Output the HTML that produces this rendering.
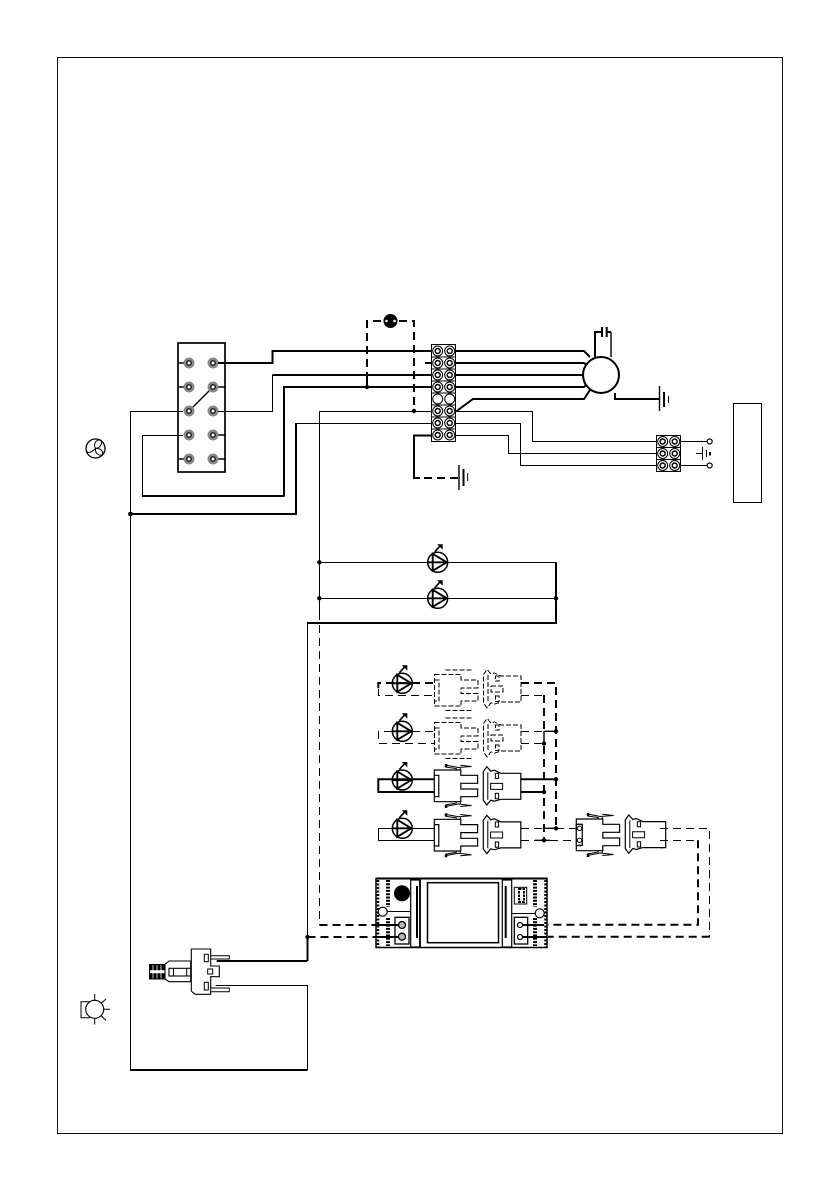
<!DOCTYPE html>
<html><head><meta charset="utf-8"><style>
html,body{margin:0;padding:0;background:#fff}
svg{display:block}
.t{fill:none;stroke:#000;stroke-width:1}
.m{fill:none;stroke:#000;stroke-width:1.4}
.k{fill:none;stroke:#000;stroke-width:2}
.dk{fill:none;stroke:#000;stroke-width:2;stroke-dasharray:8 5}
.dt{fill:none;stroke:#000;stroke-width:1;stroke-dasharray:8 5}
</style></head><body>
<svg xmlns="http://www.w3.org/2000/svg" width="839" height="1191" viewBox="0 0 839 1191">
<defs>
<g id="sw"><circle r="5.500" fill="#8a8a8a"/><circle r="3" fill="#222"/><circle r="1.500" fill="#fff"/></g>
<g id="tb"><circle r="5" fill="#fff" stroke="#000" stroke-width="1"/><circle r="2.500" fill="#fff" stroke="#000" stroke-width="1.400"/></g>
<g id="led"><circle r="10" fill="#fff" stroke="#000" stroke-width="1.500"/>
<path d="M-10 0H10M-5-9.500V9.500M-5-8.500L9 0L-5 8.500Z" fill="none" stroke="#000" stroke-width="1.900"/>
<path d="M-3-10.500L2-16" fill="none" stroke="#000" stroke-width="1.600"/><path d="M-0.500-18H5V-12.500Z"/></g>
<g id="conLf">
<path d="M0 0H26.500V5.300H43.300V13.300H26.500V19H43.300V26.700H26.500V31.700H0Z" fill="#fff" stroke="#000" stroke-width="1.200"/>
<path d="M0 5.300H4.500V26.700H0" fill="none" stroke="#000" stroke-width="1.200"/>
<path d="M11-5L24-2.500L37.300-3.500L26-4.800M11-3L22-1.500V0M26-2.500V0" fill="none" stroke="#000" stroke-width="1"/>
<rect x="10.500" y="-6" width="2.500" height="3"/>
<path d="M11 36.500L24 34L37.300 35.500L26 36.500M11 35L22 33V31.700M26 34V31.700" fill="none" stroke="#000" stroke-width="1"/>
<rect x="10.500" y="35" width="2.500" height="3"/>
</g>
<g id="conR">
<path d="M0 5L3.500 0L7.500 4.500L11 3.500L17.500 6.600H37.500V32.600H17.500L11 34.500L7.500 33.500L3.500 38.300L0 33.500Z" fill="#fff" stroke="#000" stroke-width="1.200"/>
<path d="M4.500 5.500V33M7.300 16.700H19.300V22.700H7.300ZM12 6.700H15.300V11.700H12ZM12 26.700H15.300V32H12Z" fill="none" stroke="#000"/>
</g>
<g id="conLd" fill="none" stroke="#000" stroke-dasharray="5 2" shape-rendering="crispEdges">
<path d="M0 0H26.500V5.300H43.300V13.300H26.500V19H43.300V26.700H26.500V31.700H0Z"/>
<path d="M0 5.300H4.500V26.700H0"/>
<path d="M11-4.500H37.300M11 36H37.300"/>
</g>
<g id="conRd" fill="none" stroke="#000" stroke-dasharray="5 2" shape-rendering="crispEdges">
<path d="M0 5L3.500 0L7.500 4.500L11 3.500L17.500 6.600H37.500V32.600H17.500L11 34.500L7.500 33.500L3.500 38.300L0 33.500Z"/>
<path d="M4.500 5.500V33M7.300 16.700H19.300V22.700H7.300ZM12 6.700H15.300V11.700H12ZM12 26.700H15.300V32H12Z"/>
</g>
</defs>
<rect x="57.500" y="57.500" width="725" height="1076" fill="none" stroke="#111" stroke-width="1"/>

<!-- switch -->
<rect x="178" y="343" width="47" height="129" fill="#fff" stroke="#000" stroke-width="1.700"/>
<path class="m" d="M178 363H189M178 387H189M213 387H225M213 435H225M178 459H189M213 459H225"/>
<path class="m" d="M189 411L213 387"/>
<use href="#sw" x="189" y="363"/><use href="#sw" x="213" y="363"/>
<use href="#sw" x="189" y="387"/><use href="#sw" x="213" y="387"/>
<use href="#sw" x="189" y="411"/><use href="#sw" x="213" y="411"/>
<use href="#sw" x="189" y="435"/><use href="#sw" x="213" y="435"/>
<use href="#sw" x="189" y="459"/><use href="#sw" x="213" y="459"/>

<!-- wires from switch -->
<path class="k" d="M218 363H272.500V351H584L590 357"/>
<path class="t" d="M218 411.500H272.500V375"/>
<path class="k" d="M272.500 375H583M425 363H584L589 367"/>
<path class="k" d="M284 496V387H584L589 381M142 496H284.500"/>
<path class="t" d="M142.500 496V435.500H183"/>
<path class="t" d="M183 411.500H130.500V1070"/>
<path class="k" d="M130.500 514H296V423"/>
<path class="t" d="M296 423.500H431M319.500 411.500H431M319.500 411V612"/>
<path class="dt" d="M319.500 612V925"/>
<path class="k" d="M130 1070H307.500"/>
<path class="t" d="M307.500 985V1070"/>

<!-- lamp dashed -->
<path class="dk" d="M381 321H367V375"/>
<path class="dk" d="M399 321H414V411"/>
<path class="k" d="M367 375V387"/>
<circle cx="390.500" cy="321" r="7" fill="#000"/>
<circle cx="386.500" cy="321" r="1.300" fill="#fff"/><circle cx="394.500" cy="321" r="1.300" fill="#fff"/>

<!-- terminal block -->
<rect x="431.500" y="344.500" width="24" height="97" fill="#fff" stroke="#000" stroke-width="1"/>
<path class="t" d="M431.500 357H455.500M431.500 369H455.500M431.500 381H455.500M431.500 393H455.500M431.500 405H455.500M431.500 417H455.500M431.500 429H455.500"/>
<use href="#tb" x="437.700" y="351"/><use href="#tb" x="449.700" y="351"/>
<use href="#tb" x="437.700" y="363"/><use href="#tb" x="449.700" y="363"/>
<use href="#tb" x="437.700" y="375"/><use href="#tb" x="449.700" y="375"/>
<use href="#tb" x="437.700" y="387"/><use href="#tb" x="449.700" y="387"/>
<circle cx="437.700" cy="399" r="5" fill="#fff" stroke="#000"/><circle cx="449.700" cy="399" r="5" fill="#fff" stroke="#000"/>
<use href="#tb" x="437.700" y="411"/><use href="#tb" x="449.700" y="411"/>
<use href="#tb" x="437.700" y="423"/><use href="#tb" x="449.700" y="423"/>
<use href="#tb" x="437.700" y="435"/><use href="#tb" x="449.700" y="435"/>

<!-- motor -->
<path class="k" d="M456.700 411L473 399H584L590 390"/>
<circle cx="601" cy="375" r="18" fill="#fff" stroke="#000" stroke-width="2"/>
<path class="k" d="M595 357V332H602M611 332H606.700"/>
<path class="k" d="M602 327V337M606.700 327V337"/>
<path class="m" d="M611 332V357"/>
<path class="k" d="M615 393V399H659"/>
<path class="m" d="M659.500 386V411"/><path class="k" d="M664 392V407"/><path class="t" d="M668.500 396V403"/>

<!-- thin to small block -->
<path class="t" d="M456 411.500H532.500V441.500H656M456 423.500H520.500V465.500H656M456 435.500H508.500V453.500H656"/>
<rect x="656.500" y="435.500" width="24" height="36" fill="#fff" stroke="#000"/>
<path class="t" d="M656.500 447.500H680.500M656.500 459.500H680.500"/>
<use href="#tb" x="662.700" y="441.500"/><use href="#tb" x="674.700" y="441.500"/>
<use href="#tb" x="662.700" y="453.500"/><use href="#tb" x="674.700" y="453.500"/>
<use href="#tb" x="662.700" y="465.500"/><use href="#tb" x="674.700" y="465.500"/>
<path class="t" d="M680 441.500H707M680 465.500H707M696 453.500H702"/>
<circle cx="709.700" cy="441.500" r="2.500" fill="#fff" stroke="#000" stroke-width="1.200"/>
<circle cx="709.700" cy="465.500" r="2.500" fill="#fff" stroke="#000" stroke-width="1.200"/>
<path class="t" d="M702.500 447V460M706.500 450V457"/><path class="k" d="M710 452V455.500"/>
<rect x="733.500" y="403.500" width="28" height="99" fill="#fff" stroke="#000"/>

<!-- earth left -->
<path class="k" d="M431 435.500H414V478H420"/>
<path class="dk" d="M424 478H458" stroke-dasharray="7 4"/>
<path class="m" d="M459 465V490"/><path class="k" d="M463.500 469V486"/><path class="t" d="M467.700 473V481"/>

<!-- LEDs upper -->
<path class="t" d="M319.500 562.500H556M319.500 598.500H556"/>
<path class="k" d="M556 562V623H307.500"/>
<path class="t" d="M307.500 622V961"/>
<use href="#led" x="437.700" y="562.300"/><use href="#led" x="437.700" y="598.300"/>
<circle cx="319.300" cy="562.300" r="2.200"/><circle cx="319.300" cy="598.300" r="2.200"/><circle cx="556" cy="598.300" r="2.200"/>
<circle cx="414" cy="411" r="2.200"/><circle cx="367" cy="387" r="2.200"/><circle cx="130.500" cy="514" r="2.400"/>

<!-- LED stack: row 1 -->
<use href="#led" x="402.300" y="683.300"/>
<path class="dk" d="M433 683H378.300V689"/><path class="dt" d="M378.500 689V695.500H434"/>
<use href="#conLd" x="434.500" y="674.500"/><use href="#conRd" x="483.500" y="669.500"/>
<path class="dk" d="M521 683H556V828"/>
<path class="dt" d="M521 695.500H544"/><path class="dk" d="M544 695V731"/>
<!-- row 2 -->
<use href="#led" x="402.300" y="731.300"/>
<path class="dt" d="M392 731.500H378.500V743.500H434M412 731.500H434"/>
<use href="#conLd" x="434.500" y="722.500"/><use href="#conRd" x="483.500" y="718.500"/>
<path class="dt" d="M521 731.500H544M521 743.500H544"/>
<path class="m" d="M544 731.300H556M544 731V743"/>
<path class="dk" d="M544 746V838"/>
<circle cx="556" cy="731.300" r="2.200"/><circle cx="544" cy="743.500" r="2.200"/>
<!-- row 3 -->
<path class="k" d="M434 792H378.300V779.300H392"/>
<use href="#led" x="402.300" y="780"/>
<path class="k" d="M392 779.300H434"/>
<use href="#conLf" x="434.300" y="770"/><use href="#conR" x="483.300" y="766.700"/>
<path class="k" d="M520.700 779.300H556M520.700 792H544"/>
<circle cx="556" cy="779.300" r="2.200"/><circle cx="544" cy="792" r="2.200"/>
<!-- row 4 -->
<path class="t" d="M434 840.500H378.500V828.500H392M412 828.500H434"/>
<use href="#led" x="402.300" y="828.300"/>
<use href="#conLf" x="434.300" y="819.300"/><use href="#conR" x="483.300" y="815.300"/>
<path class="dt" d="M521 828.500H544M521 840.500H535"/>
<path class="m" d="M544 828.300H556M535 840.300H550"/>
<path class="dt" d="M556 828.500H576M550 840.500H576"/>
<circle cx="556" cy="828.300" r="2.200"/><circle cx="544" cy="840.300" r="2.200"/>
<!-- right connector pair -->
<use href="#conLf" x="576.300" y="819"/>
<rect x="576.300" y="824.300" width="6" height="21" fill="#fff" stroke="#000" stroke-width="1.200"/>
<circle cx="579.500" cy="828.300" r="2.200" fill="#fff" stroke="#000"/><circle cx="579.500" cy="840.300" r="2.200" fill="#fff" stroke="#000"/>
<use href="#conR" x="625.300" y="815"/>
<path d="M660 821.600H665.700V847.600H660" fill="#fff" stroke="#000" stroke-width="1.200"/>
<path d="M662 822.500V847" stroke="#fff" stroke-width="2"/>
<path class="dt" d="M660 828.500H709.500V936.700"/>
<path class="dt" d="M660 840.500H698"/>
<path class="dk" d="M698 840.300V924.700H548"/>
<path class="dk" d="M709.700 936.700H548"/>

<!-- controller wires -->
<path class="dk" d="M319.500 925H376"/>
<path class="dk" d="M307.500 937H376"/>
<circle cx="307.500" cy="937" r="2.200"/>

<!-- controller -->
<rect x="376" y="878.500" width="171" height="69" fill="#fff" stroke="#000" stroke-width="1.500"/>
<path d="M376 878.500H547" stroke="#000" stroke-width="2"/>
<path d="M378 880V947M545.500 880V947" stroke="#000" stroke-width="2.500" stroke-dasharray="2 1.500" fill="none"/>
<path d="M388 880V907M388 918V946M535 880V907M535 918V946" stroke="#000" stroke-width="4" stroke-dasharray="2 1.300" fill="none"/>
<circle cx="402" cy="893.300" r="8" fill="#000"/>
<path class="t" d="M382 911.500H410.700M511.700 913.500H535"/>
<circle cx="382.700" cy="911.700" r="4.500" fill="#fff" stroke="#000" stroke-width="1.200"/>
<circle cx="539.700" cy="913.300" r="4.500" fill="#fff" stroke="#000" stroke-width="1.200"/>
<rect x="410.700" y="880" width="9.300" height="67" fill="#fff" stroke="#000" stroke-width="1.200"/>
<rect x="502.300" y="880" width="9.400" height="67" fill="#fff" stroke="#000" stroke-width="1.200"/>
<path d="M420 878V948" stroke="#000" stroke-width="1.800"/>
<path d="M417 886V938M505.700 886V938" stroke="#000" stroke-width="2"/>
<rect x="427.500" y="882.700" width="71" height="60" fill="#fff" stroke="#000" stroke-width="1.500"/>
<rect x="514.300" y="887.300" width="12.400" height="16.700" fill="#fff" stroke="#000"/>
<rect x="519" y="889" width="5" height="13" fill="none" stroke="#000" stroke-width="2" stroke-dasharray="2.500 1"/>
<rect x="395" y="917.300" width="14" height="26.700" fill="#fff" stroke="#000" stroke-width="1.300"/>
<rect x="514.300" y="917.300" width="13.400" height="26.700" fill="#fff" stroke="#000" stroke-width="1.300"/>
<path class="k" d="M376 925H402M376 937H402M520 925H536M520 937H547"/>
<path class="dk" d="M536 925H548" stroke-dasharray="5 4"/>
<circle cx="402" cy="925" r="3.500" fill="#bbb" stroke="#000" stroke-width="1.300"/><circle cx="402" cy="936.700" r="3.500" fill="#bbb" stroke="#000" stroke-width="1.300"/>
<circle cx="520" cy="925" r="2.500" fill="#fff" stroke="#000" stroke-width="1.200"/><circle cx="520" cy="937" r="2.500" fill="#fff" stroke="#000" stroke-width="1.200"/>

<!-- fan symbol -->
<circle cx="95.500" cy="448.500" r="9.500" fill="#fff" stroke="#000" stroke-width="1.300"/>
<path class="t" d="M95.500 448.500C93 444 96 439 101 440M95.500 448.500C100 448 104 451 102.500 455M95.500 448.500C92 452 88 454 86.500 451M101 440C103 444 100 448 95.500 448.500M102.500 455C98 456 95 453 95.500 448.500" stroke-width="1.100"/>

<!-- bulb symbol -->
<path class="t" d="M90 1001.700H81V1017.700H90"/>
<circle cx="94.700" cy="1009.300" r="9" fill="#fff" stroke="#000" stroke-width="1.100"/>
<path class="t" d="M94.700 994V1000M94.700 1018.500V1024.500M104 1009.300H110M101.500 1003L106 999M101 1015.500L106 1020.500"/>

<!-- socket -->
<rect x="149.300" y="964.300" width="15.700" height="14.700" fill="#000"/>
<rect x="149.300" y="970.200" width="15.700" height="3" fill="#fff"/>
<path d="M153 964V979M157 964V979M161 964V979" stroke="#fff" stroke-width=".8"/>
<rect x="149.500" y="964.500" width="15.500" height="14.500" fill="none" stroke="#000"/>
<path d="M165 964.300L169 961H190.700V981.700H169L165 979Z" fill="#fff" stroke="#000" stroke-width="1.100"/>
<rect x="169" y="968.300" width="28.300" height="7.700" fill="none" stroke="#000" stroke-width="1.100"/>
<path class="t" d="M173.500 968.300V976M186.700 968.300V976M193 968.300V976"/>
<path d="M191.300 949H210.700V966H219.300V976.700H210.700V994.300H195L191.300 991Z" fill="#fff" stroke="#000" stroke-width="1.100"/>
<rect x="204.300" y="954.300" width="4" height="7.400" fill="#fff" stroke="#000"/>
<rect x="204.300" y="982.300" width="4" height="7.700" fill="#fff" stroke="#000"/>
<rect x="207.700" y="969" width="5" height="5" fill="#fff" stroke="#000"/>
<path class="t" d="M210.700 955.700H229.300V959H210.700M210.700 988H229.300V991.700H210.700"/>
<path class="k" d="M216.700 961H307.500M307.500 961V937"/>
<path class="t" d="M215.700 985.500H307.500"/>
</svg>
</body></html>
